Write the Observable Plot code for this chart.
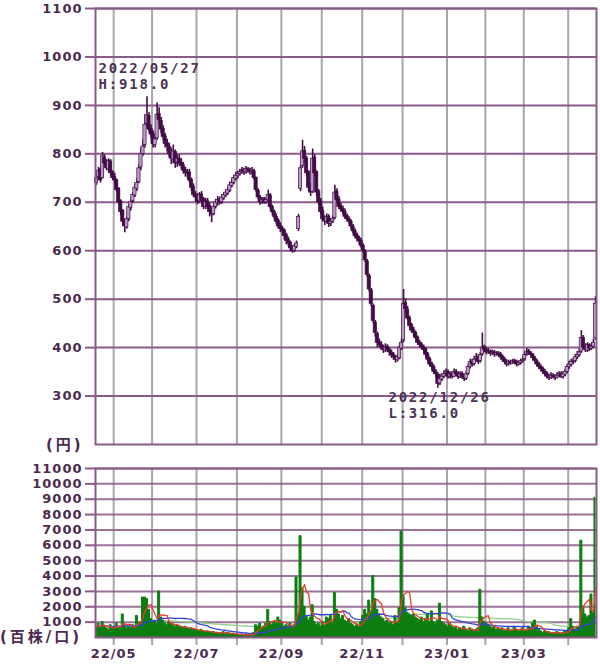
<!DOCTYPE html>
<html><head><meta charset="utf-8">
<script src="https://cdn.jsdelivr.net/npm/d3@7"></script>
<script src="https://cdn.jsdelivr.net/npm/@observablehq/plot@0.6"></script>
<style>
body{margin:0;background:#fff;width:600px;height:668px;overflow:hidden;position:relative;}
#price{position:absolute;left:0;top:0}
#vol{position:absolute;left:0;top:452px}
.unit{position:absolute;font-family:"DejaVu Sans","Noto Sans CJK JP",sans-serif;font-weight:bold;font-size:15px;color:#4a2a4e;letter-spacing:3px;line-height:16px;white-space:nowrap}
svg g[aria-label="text"]{letter-spacing:1.8px}
svg g[aria-label$="tick label"]{letter-spacing:1px}
</style></head><body>
<div id="price"></div><div id="vol"></div>
<div class="unit" style="left:46px;top:437px">(円)</div>
<div class="unit" style="left:0px;top:629px">(百株/口)</div>
<script>
// Daily prices (円), one per trading day, 2022/04 .. 2023/04
const open = [
740,752,768,750,792,782,768,784,762,752,
745,728,702,682,662,648,665,688,702,714,
728,742,772,800,818,862,878,852,842,818,
832,882,868,852,836,822,815,802,788,804,
782,790,782,776,766,758,762,746,732,716,
712,702,716,706,690,702,692,682,676,690,
698,706,700,708,714,718,724,734,740,748,
754,758,762,766,762,768,765,762,764,750,
724,710,700,706,700,704,714,690,680,670,
662,652,646,642,632,622,616,606,600,608,
645,728,775,806,790,762,730,722,792,762,
722,702,682,666,660,670,656,660,668,722,
706,692,686,680,672,666,660,650,640,632,
626,620,610,598,578,548,518,486,452,428,
412,406,400,394,402,396,390,386,380,374,
378,398,415,492,478,460,446,436,430,420,
410,405,400,396,386,376,366,360,350,344,
326,334,340,346,350,340,346,340,350,346,
340,346,340,336,346,360,370,366,376,380,
372,386,402,396,390,392,388,390,385,388,
386,381,376,371,366,370,368,372,370,365,
368,372,376,386,392,388,385,378,372,366,
360,356,350,346,340,338,342,340,338,342,
346,340,344,350,360,364,370,372,380,384,
392,420,402,394,405,398,402,420];
const high = [
758,772,770,803,798,788,790,788,765,760,
748,730,705,685,665,670,695,705,720,738,
748,778,810,830,880,918,885,860,848,840,
905,895,875,858,842,830,822,812,818,808,
798,798,790,782,772,768,768,750,738,722,
718,720,722,710,708,708,698,688,695,706,
712,710,716,720,726,730,742,748,756,762,
764,768,772,770,774,772,770,772,768,752,
728,714,710,710,710,725,718,694,684,676,
666,658,650,645,636,628,620,610,614,620,
675,775,828,815,795,765,738,810,798,765,
726,708,690,672,676,674,666,672,735,728,
712,698,692,686,676,670,664,654,645,636,
630,625,614,602,582,552,522,490,456,432,
418,412,405,408,406,400,395,390,384,386,
405,418,520,500,485,465,450,442,434,424,
415,410,405,400,390,380,370,364,355,348,
345,346,352,356,354,350,350,356,355,350,
350,350,345,350,365,376,376,382,388,385,
390,430,405,400,398,395,395,394,392,392,
390,385,380,375,374,374,376,376,374,372,
376,380,390,398,396,392,388,382,376,370,
364,360,355,350,345,348,346,344,348,350,
350,350,355,365,372,376,378,386,392,396,
435,425,408,410,408,408,418,505];
const low = [
735,745,740,748,775,765,762,755,745,738,
720,695,672,650,637,645,660,682,698,710,
722,738,765,795,812,855,845,832,812,812,
828,862,842,828,812,805,792,778,780,770,
772,775,768,758,752,750,740,722,710,702,
695,698,700,685,685,685,670,658,672,686,
692,694,696,704,710,714,720,730,736,744,
748,754,758,756,758,760,756,758,746,720,
706,694,696,696,696,700,686,675,664,655,
645,638,632,622,612,608,598,595,596,604,
640,722,770,782,752,722,712,718,752,712,
695,675,660,652,656,648,650,656,664,700,
686,680,675,665,660,655,645,635,625,618,
614,605,595,575,545,515,485,450,422,400,
400,394,388,390,390,382,378,374,368,370,
375,394,410,470,455,440,430,422,415,405,
400,395,388,380,370,360,354,345,338,316,
322,330,336,340,335,335,335,338,340,334,
336,335,330,332,342,356,360,362,370,365,
368,382,390,385,386,382,384,380,382,380,
376,370,366,360,362,364,365,366,360,362,
364,368,372,382,384,380,374,368,360,356,
350,345,340,335,332,334,335,332,335,338,
336,335,340,346,355,360,365,368,375,380,
388,396,390,390,392,394,398,415];
const close = [
750,765,745,795,780,770,785,760,750,745,
725,700,680,660,650,665,690,700,715,730,
740,770,800,815,860,880,850,840,820,830,
880,870,850,835,820,815,800,790,805,780,
790,780,775,765,760,760,745,730,715,710,
700,715,705,690,700,690,680,675,690,700,
705,700,710,715,720,725,735,740,750,755,
758,762,765,762,768,765,762,765,750,725,
710,700,705,700,705,715,690,680,670,660,
650,645,640,630,620,615,605,600,610,615,
670,770,805,790,760,730,720,790,760,720,
700,680,665,660,670,655,660,665,720,705,
690,685,680,670,665,660,650,640,630,625,
620,610,600,580,550,520,490,455,430,410,
405,400,395,400,395,390,385,380,375,380,
400,410,490,480,460,445,435,430,420,410,
405,400,395,385,375,365,360,350,345,325,
335,340,345,350,340,345,340,350,345,340,
345,340,335,345,360,370,365,375,380,370,
385,400,395,390,392,388,390,385,388,385,
380,375,370,365,370,368,372,370,365,368,
372,375,385,392,388,385,378,372,365,360,
355,350,345,340,338,342,340,338,342,345,
340,345,350,360,365,370,372,380,385,390,
420,400,395,405,398,402,410,490];
// Daily volume (百株)
const volume = [
700,900,600,1000,700,600,500,800,600,700,
900,600,700,1500,800,600,700,600,800,700,
1400,900,1000,2600,2600,2500,1800,1200,1000,1100,
900,3000,1300,1100,900,800,1000,900,800,700,
800,700,650,600,700,600,550,600,500,500,
450,400,500,400,350,400,350,300,350,300,
300,250,300,350,250,300,250,200,250,200,
200,150,200,150,200,150,200,150,300,800,
700,900,600,700,900,1800,1000,800,1000,900,
1300,1100,900,700,800,700,900,600,800,3900,
1500,6600,3200,2000,1400,1100,1300,2100,1000,800,
900,700,1000,800,1300,1200,1400,900,2900,1800,
1500,1200,1400,1100,1000,1200,900,800,700,800,
700,1000,1400,1800,1500,2400,1700,4000,2500,1800,
1500,1300,1200,1000,1100,900,1000,800,1400,1000,
1900,6900,2700,1900,1600,1500,1400,1500,1300,1200,
1100,1300,1000,1200,1500,1000,1700,1000,900,1100,
2200,1000,900,800,700,900,700,600,700,500,
600,500,700,500,400,600,500,400,500,600,
3100,1300,1000,900,800,700,600,700,500,600,
500,600,400,500,600,400,500,700,500,400,
500,600,400,500,700,600,900,1100,700,500,
400,300,400,300,350,250,300,250,350,300,
250,300,400,350,600,1200,700,500,600,700,
6300,2000,1500,1300,1400,2800,1600,9100];
// Month boundaries (trading-day index) and labels
const monthStarts = [9,28,50,70,92,112,132,152,174,193,212,234];
const monthLabels = ["22/05","","22/07","","22/09","","22/11","","23/01","","23/03",""];
const priceTicks = [300,400,500,600,700,800,900,1000,1100];
const volTicks = [1000,2000,3000,4000,5000,6000,7000,8000,9000,10000,11000];
const highNote = {i:25, v:918, label:"2022/05/27\nH:918.0"};
const lowNote = {i:169, v:316, label:"2022/12/26\nL:316.0"};
const maWindows = [5, 25, 75];

const PURPLE="#8a5a88", GRAY="#aaa4ac", INK="#4a2a4e", DARK="#420c46", LIGHT="#b99bc6";
const GREEN="#0d7d12", RED="#e8402c", BLUE="#3340e0", LGREEN="#8fd08f";
const N = close.length;
const candles = close.map((c,i)=>({i, o:open[i], h:high[i], l:low[i], c}));
const vols = volume.map((v,i)=>({i, v}));
const ma = n => volume.map((_,i)=>({i, v:d3.mean(volume.slice(Math.max(0,i-n+1), i+1))}));
const [ma5, ma25, ma75] = maWindows.map(ma);
const labelFor = new Map(monthStarts.map((m,k)=>[m, monthLabels[k]]));
const baseStyle = {background:"transparent", fontFamily:"'DejaVu Sans',sans-serif", fontSize:"13px", fontWeight:"bold", color:INK, overflow:"visible"};

const priceChart = Plot.plot({
  width:600, height:452, marginTop:8, marginBottom:8, marginLeft:95, marginRight:4,
  style: baseStyle,
  x:{domain:[0,N], axis:null},
  y:{domain:[200,1100], axis:null},
  marks:[
    Plot.ruleX(monthStarts, {stroke:GRAY, strokeWidth:2}),
    Plot.ruleY(priceTicks, {stroke:PURPLE, strokeWidth:2}),
    Plot.axisY(priceTicks, {tickSize:10, tickPadding:3, stroke:PURPLE, strokeWidth:2, fill:INK, fontWeight:"bold", fontSize:13, tickFormat:d=>String(d), label:null}),
    Plot.ruleX(candles, {x:d=>d.i+0.5, y1:"l", y2:"h", stroke:DARK, strokeWidth:1.6}),
    Plot.rect(candles, {x1:d=>d.i-0.3, x2:d=>d.i+1.3, y1:"o", y2:"c", inset:0, fill:d=>d.c>=d.o?LIGHT:DARK, stroke:DARK, strokeWidth:0.7}),
    Plot.text([highNote], {x:d=>d.i+0.5, y:"v", text:"label", textAnchor:"start", lineAnchor:"middle", lineHeight:1.15, dx:-48.5, dy:-21, fontFamily:"DejaVu Sans Mono", fontSize:14, fontWeight:"bold", fill:"#4a3452"}),
    Plot.text([lowNote], {x:d=>d.i+0.5, y:"v", text:"label", textAnchor:"start", lineAnchor:"middle", lineHeight:1.15, dx:-49.5, dy:16.5, fontFamily:"DejaVu Sans Mono", fontSize:14, fontWeight:"bold", fill:"#4a3452"}),
    Plot.frame({stroke:PURPLE, strokeWidth:2})
  ]
});
document.getElementById("price").append(priceChart);

const volChart = Plot.plot({
  width:600, height:216, marginTop:16, marginBottom:31, marginLeft:95, marginRight:4,
  style: baseStyle,
  x:{domain:[0,N], axis:null},
  y:{domain:[0,11000], axis:null},
  marks:[
    Plot.ruleX(monthStarts, {stroke:GRAY, strokeWidth:2}),
    Plot.ruleY(volTicks, {stroke:PURPLE, strokeWidth:2, strokeOpacity:0.85}),
    Plot.axisY(volTicks, {tickSize:10, tickPadding:3, stroke:PURPLE, strokeWidth:2, fill:INK, fontWeight:"bold", fontSize:13, tickFormat:d=>String(d), label:null}),
    Plot.axisX(monthStarts, {tickSize:8, tickPadding:3, stroke:GRAY, strokeWidth:2, fill:INK, fontWeight:"bold", fontSize:13, tickFormat:d=>labelFor.get(d), label:null}),
    Plot.line(ma75, {x:d=>d.i+0.5, y:"v", stroke:LGREEN, strokeWidth:1.3}),
    Plot.areaY(vols, {x:d=>d.i+0.5, y:"v", curve:"step", fill:GREEN, stroke:GREEN, strokeWidth:1}),
    Plot.line(ma25, {x:d=>d.i+0.5, y:"v", stroke:BLUE, strokeWidth:1.3}),
    Plot.line(ma5, {x:d=>d.i+0.5, y:"v", stroke:RED, strokeWidth:1.3}),
    Plot.frame({stroke:PURPLE, strokeWidth:2})
  ]
});
document.getElementById("vol").append(volChart);
</script></body></html>
